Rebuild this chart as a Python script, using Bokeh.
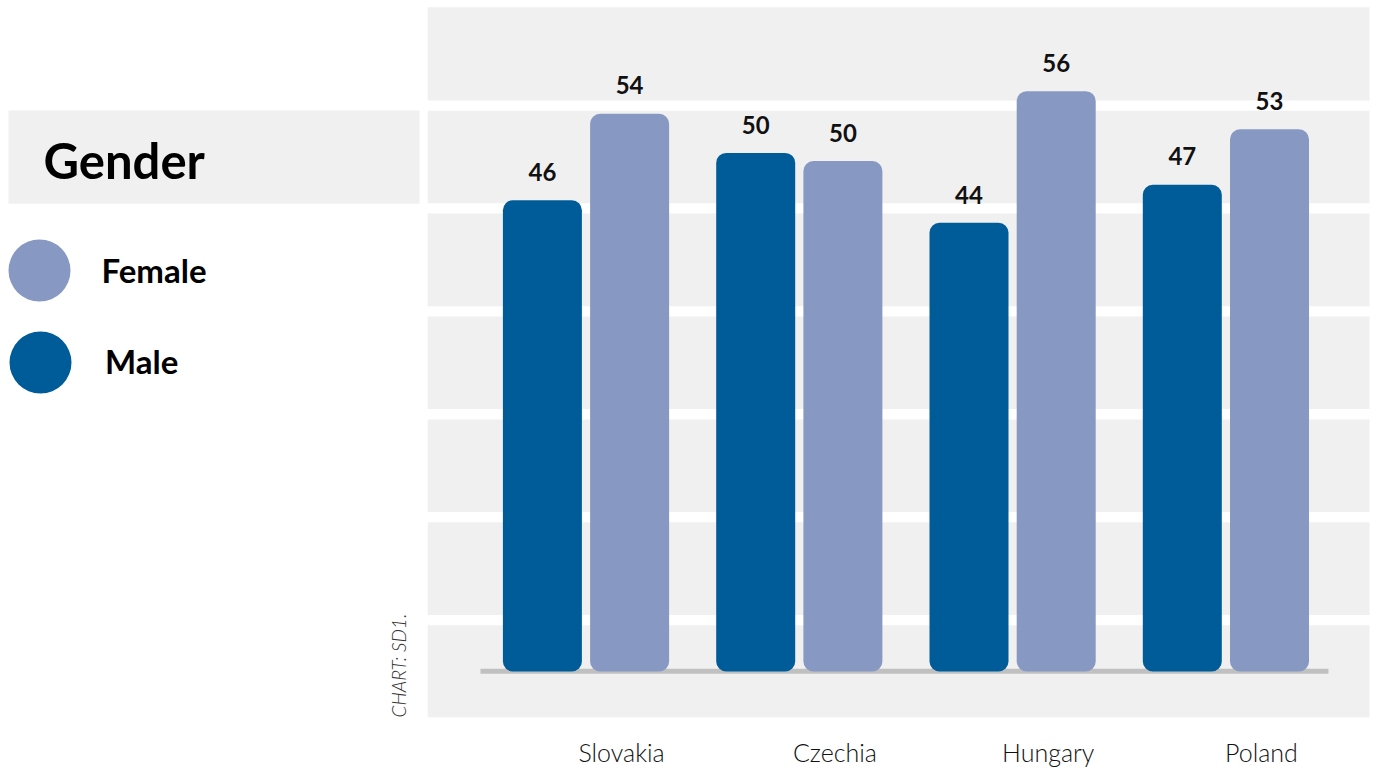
import math
from bokeh.plotting import figure
from bokeh.layouts import row
from bokeh.models import Range1d, ColumnDataSource
from bokeh.core.properties import value
from bokeh.embed import file_html
from bokeh.resources import INLINE

# ---------------- data ----------------
countries = ["Slovakia", "Czechia", "Hungary", "Poland"]
male = [45.8, 50.4, 43.6, 47.3]
female = [54.2, 49.6, 56.4, 52.7]
legend_title = "Gender"
series_names = ["Female", "Male"]
source_note = "CHART: SD1."
grid_values = [5, 15, 25, 35, 45, 55]

# ---------------- style / layout ----------------
MALE_C = "#005C99"
FEMALE_C = "#8798C2"
BAND_C = "#F0F0F0"
BASE_C = "#C0C0C0"
FONT = "Lato"
LIGHT = "Lato Light, Lato"

H = 768
W_LEFT, W_RIGHT = 427, 948
PX_UNIT = 10.29          # px per value unit
GROUP_PX = 213.3         # px between group centres
BASE_PX = 671            # baseline from figure top
FIRST_GROUP_PX = 158.5   # first group centre from figure left

x0 = -FIRST_GROUP_PX / GROUP_PX
x1 = x0 + W_RIGHT / GROUP_PX
y1 = BASE_PX / PX_UNIT
y0 = -(H - BASE_PX) / PX_UNIT

BAR_W = 79 / GROUP_PX
OFF = 43.6 / GROUP_PX
LABEL_OFF = 35.6 / GROUP_PX
BAND_RIGHT = x0 + 942 / GROUP_PX

# ---------------- chart ----------------
p = figure(width=W_RIGHT, height=H, x_range=Range1d(x0, x1), y_range=Range1d(y0, y1),
           output_backend="svg", toolbar_location=None, min_border=0,
           x_axis_location=None, y_axis_location=None)
p.grid.visible = False
p.outline_line_color = None
p.background_fill_color = "white"
p.border_fill_color = "white"

half_gap = 0.5
band_bottom = [-4.45] + [g + half_gap for g in grid_values]
band_top = [g - half_gap for g in grid_values] + [64.55]
p.quad(left=x0, right=BAND_RIGHT, bottom=band_bottom, top=band_top,
       fill_color=BAND_C, line_color=None)

p.segment(x0=[-105.5 / GROUP_PX], x1=[742.5 / GROUP_PX], y0=[0.02], y1=[0.02],
          line_color=BASE_C, line_width=5, line_cap="butt")

idx = list(range(len(countries)))
src = ColumnDataSource(dict(
    xm=[i - OFF for i in idx], xf=[i + OFF for i in idx],
    male=male, female=female,
    ml=[str(round(v)) for v in male], fl=[str(round(v)) for v in female],
    mly=[v + 2.75 for v in male], fly=[v + 2.75 for v in female],
    xl=[i + LABEL_OFF for i in idx], country=countries,
))
p.vbar(x="xm", width=BAR_W, top="male", bottom=0, source=src,
       fill_color=MALE_C, line_color=None, border_radius=10)
p.vbar(x="xf", width=BAR_W, top="female", bottom=0, source=src,
       fill_color=FEMALE_C, line_color=None, border_radius=10)

for xc, yc, tc in (("xm", "mly", "ml"), ("xf", "fly", "fl")):
    p.text(x=xc, y=yc, text=tc, source=src, text_font=value(FONT),
           text_font_style="bold", text_font_size="24px", text_color="#111111",
           text_align="center", text_baseline="middle")

p.text(x="xl", y=-(751 - BASE_PX) / PX_UNIT, text="country", source=src,
       text_font=value(LIGHT), text_font_size="25px", text_color="#111111",
       text_align="center", text_baseline="middle")

# ---------------- legend panel ----------------
q = figure(width=W_LEFT, height=H, x_range=Range1d(0, W_LEFT), y_range=Range1d(H, 0),
           output_backend="svg", toolbar_location=None, min_border=0,
           x_axis_location=None, y_axis_location=None)
q.grid.visible = False
q.outline_line_color = None
q.background_fill_color = "white"
q.border_fill_color = "white"

q.quad(left=[8], right=[419], top=[110], bottom=[203.3], fill_color=BAND_C, line_color=None)
q.text(x=[43], y=[159], text=[legend_title], text_font=value(FONT), text_font_style="bold",
       text_font_size="49px", text_color="#000000", text_baseline="middle")
q.scatter(x=[39, 40], y=[270, 362], size=62, marker="circle",
          fill_color=[FEMALE_C, MALE_C], line_color=None)
q.text(x=[101, 104.5], y=[269.5, 360], text=series_names, text_font=value(FONT),
       text_font_style="bold", text_font_size="33px", text_color="#000000",
       text_baseline="middle")
q.text(x=[397.5], y=[717], text=[source_note], angle=math.pi / 2, text_font=value(LIGHT),
       text_font_style="italic", text_font_size="19px", text_color="#333333",
       text_align="left", text_baseline="middle")

layout = row(q, p)
open("out.html", "w").write(file_html(layout, INLINE))
